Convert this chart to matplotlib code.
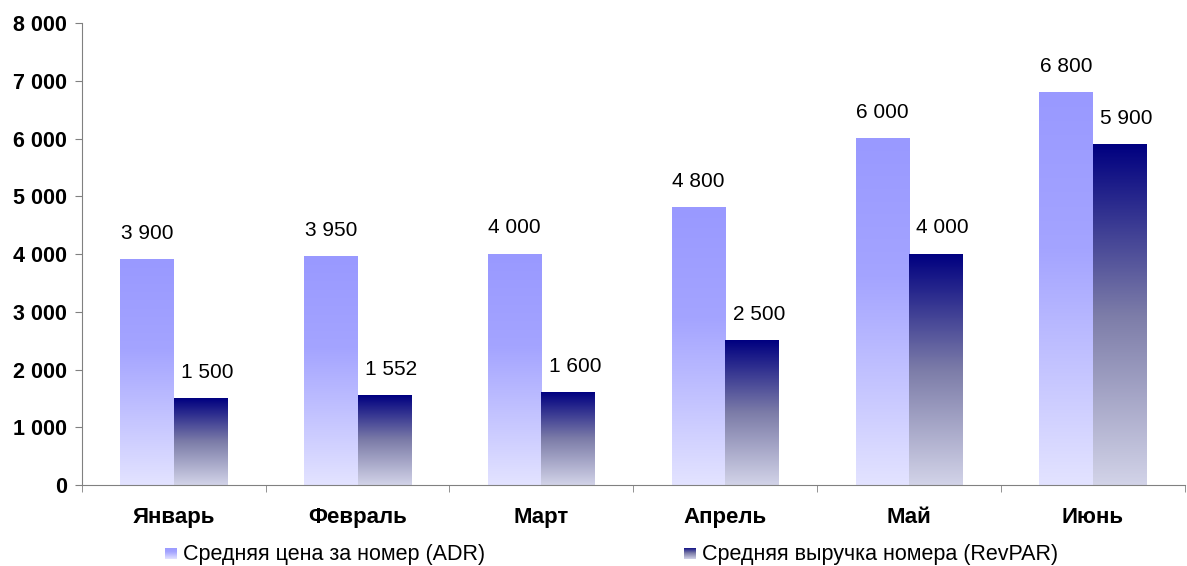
import numpy as np
import matplotlib.pyplot as plt
from matplotlib.colors import LinearSegmentedColormap
from matplotlib.ticker import FuncFormatter

plt.rcParams['font.family'] = ['Liberation Sans', 'DejaVu Sans']

months = ['Январь', 'Февраль', 'Март', 'Апрель', 'Май', 'Июнь']
adr = [3900, 3950, 4000, 4800, 6000, 6800]
revpar = [1500, 1552, 1600, 2500, 4000, 5900]
series_names = ['Средняя цена за номер (ADR)', 'Средняя выручка номера (RevPAR)']

# gradients: index 0 = bottom, 1 = top
cmap_adr = LinearSegmentedColormap.from_list(
    'adr', [(0, '#E3E3FF'), (0.6, '#A4A4FF'), (1, '#9999FF')])
cmap_rev = LinearSegmentedColormap.from_list(
    'rev', [(0, '#D2D3E8'), (0.5, '#7C7CA8'), (1, '#000080')])

def fmt(v):
    return '{:,}'.format(int(v)).replace(',', ' ')

fig = plt.figure(figsize=(11.87, 5.66), dpi=100)
ax = fig.add_axes([0.069, 0.143, 0.929, 0.816])

x = np.arange(len(months))
w = 0.29
grad = np.linspace(0, 1, 256).reshape(-1, 1)

for vals, off, cmap, dx in [(adr, -w / 2, cmap_adr, 0), (revpar, w / 2, cmap_rev, 5)]:
    bars = ax.bar(x + off, vals, w, color='none', edgecolor='none')
    for b, v in zip(bars, vals):
        x0 = b.get_x()
        ax.imshow(grad, extent=(x0, x0 + w, 0, v), origin='lower',
                  aspect='auto', cmap=cmap, zorder=2)
        ax.annotate(fmt(v), (x0 + w / 2, v), xytext=(dx, 12),
                    textcoords='offset points', ha='center', va='bottom',
                    fontsize=15)

ax.set_xlim(-0.5, len(months) - 0.5)
ax.set_ylim(0, 8000)
ax.set_yticks(np.arange(0, 8001, 1000))
ax.yaxis.set_major_formatter(FuncFormatter(lambda v, p: fmt(v)))
for lab in ax.get_yticklabels():
    lab.set_fontweight('bold')
ax.tick_params(axis='y', labelsize=15.5, length=5, color='#808080', pad=6)

ax.set_xticks(x)
ax.set_xticklabels(months, fontsize=16, fontweight='bold')
ax.set_xticks(np.arange(-0.5, len(months), 1), minor=True)
ax.tick_params(axis='x', which='major', length=0, pad=16)
ax.tick_params(axis='x', which='minor', length=5, color='#808080')

for s in ['top', 'right']:
    ax.spines[s].set_visible(False)
for s in ['left', 'bottom']:
    ax.spines[s].set_color('#808080')

# legend
for (lx, name, cmap) in [(0.139, series_names[0], cmap_adr),
                         (0.576, series_names[1], cmap_rev)]:
    sq = fig.add_axes([lx, 0.012, 0.0093, 0.0195])
    sq.imshow(grad, origin='lower', aspect='auto', cmap=cmap)
    sq.axis('off')
    fig.text(lx + 0.0155, 0.021, name, fontsize=15.5, va='center', ha='left')

fig.savefig('out.png', dpi=100)
